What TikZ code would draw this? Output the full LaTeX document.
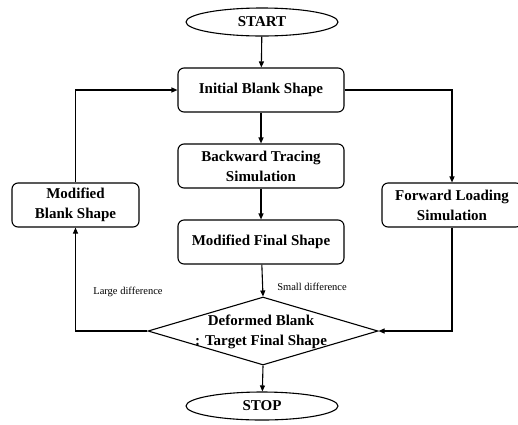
\documentclass[tikz,border=0pt]{standalone}
\usepackage{fontspec}
\setmainfont{Liberation Serif}
\usetikzlibrary{shapes.geometric,arrows.meta}
\begin{document}
\begin{tikzpicture}[x=1pt,y=-1pt,
  line width=1.1pt,
  every node/.style={font=\bfseries\fontsize{15}{20}\selectfont},
  procbox/.style={draw,rounded corners=6pt,minimum width=166pt,minimum height=44pt,align=center,inner sep=1pt},
  sidebox/.style={draw,rounded corners=6pt,minimum width=127pt,minimum height=44pt,align=center,inner sep=1pt},
  term/.style={draw,ellipse,minimum width=152pt,minimum height=28pt,inner sep=0pt},
  arr/.style={-{Triangle[length=6pt,width=5pt]}},
  lbl/.style={font=\fontsize{10.5}{12}\selectfont}
]
\useasboundingbox (0,0) rectangle (518,424);
\node[term] (start) at (262,22) {START};
\node[procbox] (init) at (261,90) {Initial Blank Shape};
\node[procbox] (back) at (261,166) {Backward Tracing\\Simulation};
\node[procbox] (mfin) at (261,242) {Modified Final Shape};
\node[sidebox] (mblank) at (75.5,205) {Modified\\Blank Shape};
\node[sidebox,minimum width=140pt] (fwd) at (452,205) {Forward Loading\\Simulation};
\node[draw,diamond,minimum width=230pt,minimum height=68pt,inner sep=0pt] (dec) at (263,331) {};
\node[align=center] (dectext) at (261,332) {Deformed Blank\\: Target Final Shape};
\node[term] (stop) at (262,406) {STOP};
\node[lbl] (small) at (312,287) {Small difference};
\node[lbl] (large) at (128,292) {Large difference};

\draw[arr] (start) -- (init);
\draw[arr] (init) -- (back);
\draw[arr] (back) -- (mfin);
\draw[arr] (mfin) -- (dec.north);
\draw[arr] (dec.south) -- (stop);
\draw[arr] (init.east) -| (fwd.north);
\draw[arr] (fwd.south) |- (dec.east);
\draw[arr] (dec.west) -| (mblank.south);
\draw[arr] (mblank.north) |- (init.west);
\end{tikzpicture}
\end{document}
